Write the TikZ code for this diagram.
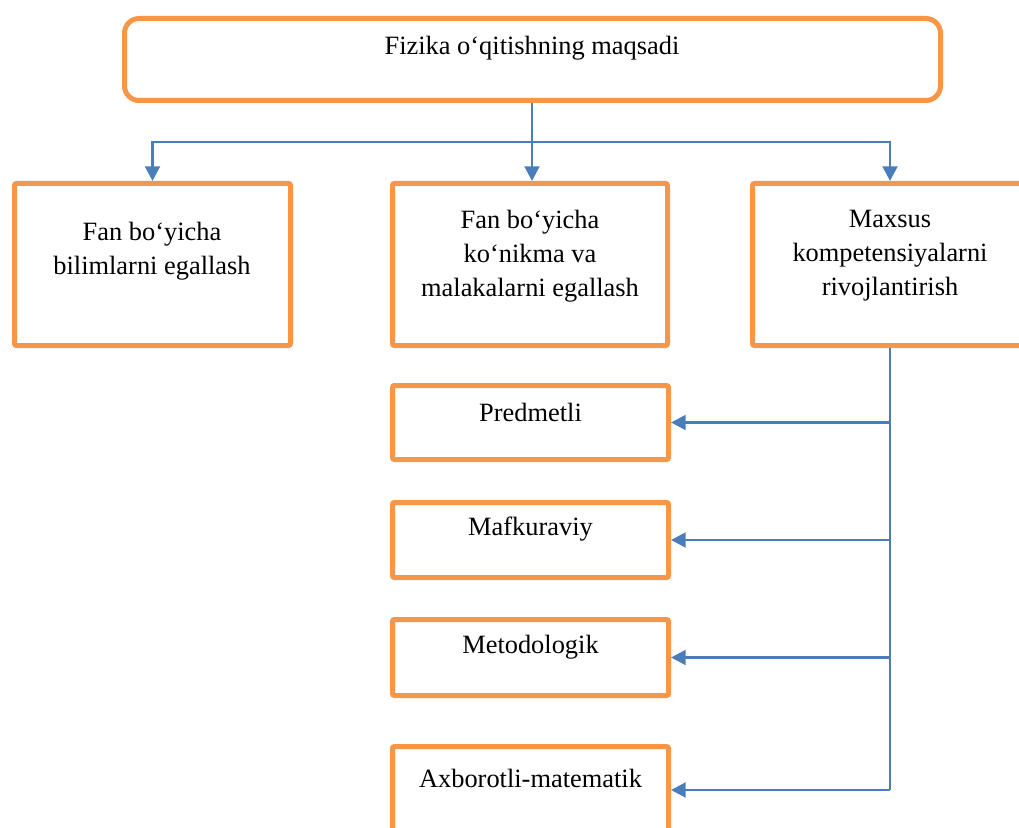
\documentclass[tikz,border=0pt]{standalone}
\usepackage{fontspec}
\setmainfont{Liberation Serif}
\usetikzlibrary{arrows.meta}
\definecolor{boxorange}{HTML}{F79646}
\definecolor{linkblue}{HTML}{4A7EBB}
\tikzset{
  frame/.style={draw=boxorange, line width=3.75pt, rectangle, rounded corners=1.5pt, fill=white, inner sep=0pt},
  caption/.style={font=\fontsize{19.8pt}{25.5pt}\selectfont, align=center, inner sep=0pt},
  link/.style={draw=linkblue, line width=2.2pt},
  arrowlink/.style={link, -{Triangle[width=11pt,length=11pt]}}
}
\begin{document}
\begin{tikzpicture}[x=0.75pt, y=-0.75pt]
  \useasboundingbox (0,0) rectangle (1019,827);
  \clip (0,0) rectangle (1019,827);

  % goal at the top
  \node[frame, rounded corners=11pt, minimum width=612pt, minimum height=61.5pt] (goal) at (532.5,59.5) {};
  \node[caption] (goaltext) at (532,48) {Fizika o‘qitishning maqsadi};

  % three main directions
  \node[frame, minimum width=207pt, minimum height=121.5pt] (know) at (152.5,264.5) {};
  \node[caption] (knowtext) at (152,251) {Fan bo‘yicha\\bilimlarni egallash};

  \node[frame, minimum width=206.25pt, minimum height=121.5pt] (skill) at (530,264.5) {};
  \node[caption] (skilltext) at (530,256) {Fan bo‘yicha\\ko‘nikma va\\malakalarni egallash};

  \node[frame, minimum width=206.25pt, minimum height=121.5pt] (comp) at (890,264.5) {};
  \node[caption] (comptext) at (890,256) {Maxsus\\kompetensiyalarni\\rivojlantirish};

  % kinds of competences
  \node[frame, minimum width=207pt, minimum height=55.5pt] (subj) at (530.5,422.5) {};
  \node[caption] (subjtext) at (530.5,412) {Predmetli};

  \node[frame, minimum width=207pt, minimum height=56.25pt] (ideo) at (530.5,540) {};
  \node[caption] (ideotext) at (530.5,529) {Mafkuraviy};

  \node[frame, minimum width=207pt, minimum height=57pt] (meth) at (530.5,657.5) {};
  \node[caption] (methtext) at (530.5,647) {Metodologik};

  \node[frame, minimum width=207pt, minimum height=65.25pt] (info) at (530.5,790) {};
  \node[caption] (infotext) at (530.5,778) {Axborotli-matematik};

  % connectors from the goal
  \coordinate (split) at (532,142);
  \draw[link] (goal.south -| split) -- (split);
  \draw[arrowlink] (split) -| (know.north);
  \draw[arrowlink] (split) -| (comp.north);
  \draw[arrowlink] (split) -- (split |- skill.north);

  % spine from the competences box
  \coordinate (spineend) at (comp.south |- info.east);
  \draw[link] (comp.south) -- (spineend);
  \draw[arrowlink] (comp.south |- subj.east) -- (subj.east);
  \draw[arrowlink] (comp.south |- ideo.east) -- (ideo.east);
  \draw[arrowlink] (comp.south |- meth.east) -- (meth.east);
  \draw[arrowlink] (spineend) -- (info.east);
\end{tikzpicture}
\end{document}
